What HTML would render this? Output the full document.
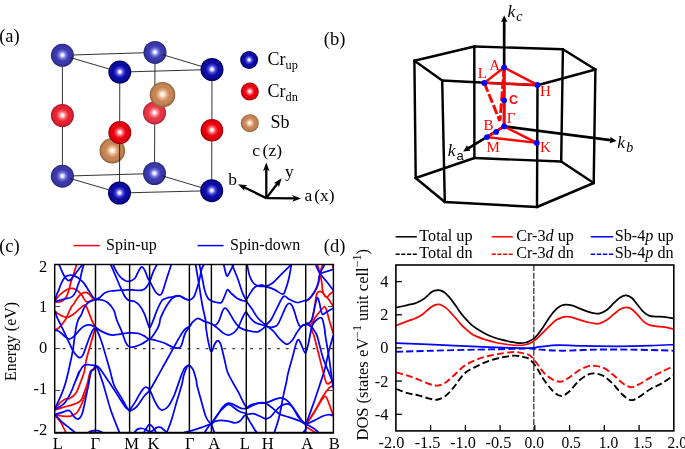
<!DOCTYPE html>
<html><head><meta charset="utf-8"><title>Figure</title>
<style>
html,body{margin:0;padding:0;background:#fff;}
body{width:685px;height:449px;overflow:hidden;font-family:"Liberation Serif",serif;}
svg{display:block;}
text{font-family:"Liberation Serif",serif;fill:#000;}
.sans{font-family:"Liberation Sans",sans-serif;}
</style></head><body>
<svg width="685" height="449" viewBox="0 0 685 449">
<rect x="0" y="0" width="685" height="449" fill="#fff"/>
<g style="opacity:0.999">
<defs>
<radialGradient id="g_bf" cx="0.5" cy="0.49" r="0.5" fx="0.5" fy="0.49"><stop offset="0" stop-color="#ffffff"/><stop offset="0.05" stop-color="#ffffff"/><stop offset="0.15" stop-color="#c8c8ff"/><stop offset="0.31" stop-color="#4a4ae0"/><stop offset="0.55" stop-color="#0c0ca2"/><stop offset="0.76" stop-color="#0c0ca2"/><stop offset="1" stop-color="#000058"/></radialGradient>
<radialGradient id="g_bb" cx="0.5" cy="0.49" r="0.5" fx="0.5" fy="0.49"><stop offset="0" stop-color="#ffffff"/><stop offset="0.05" stop-color="#ffffff"/><stop offset="0.15" stop-color="#d4d4ff"/><stop offset="0.31" stop-color="#7474e0"/><stop offset="0.55" stop-color="#3a3aaa"/><stop offset="0.76" stop-color="#3a3aaa"/><stop offset="1" stop-color="#26267e"/></radialGradient>
<radialGradient id="g_rf" cx="0.5" cy="0.49" r="0.5" fx="0.5" fy="0.49"><stop offset="0" stop-color="#ffffff"/><stop offset="0.05" stop-color="#ffffff"/><stop offset="0.15" stop-color="#ffd0d0"/><stop offset="0.31" stop-color="#ff5058"/><stop offset="0.55" stop-color="#e6000e"/><stop offset="0.76" stop-color="#e6000e"/><stop offset="1" stop-color="#a00008"/></radialGradient>
<radialGradient id="g_rb" cx="0.5" cy="0.49" r="0.5" fx="0.5" fy="0.49"><stop offset="0" stop-color="#ffffff"/><stop offset="0.05" stop-color="#ffffff"/><stop offset="0.15" stop-color="#ffd8dc"/><stop offset="0.31" stop-color="#ff7880"/><stop offset="0.55" stop-color="#e63646"/><stop offset="0.76" stop-color="#e63646"/><stop offset="1" stop-color="#b02232"/></radialGradient>
<radialGradient id="g_sb" cx="0.5" cy="0.49" r="0.5" fx="0.5" fy="0.49"><stop offset="0" stop-color="#ffffff"/><stop offset="0.05" stop-color="#ffffff"/><stop offset="0.15" stop-color="#ffe8d4"/><stop offset="0.31" stop-color="#eeb488"/><stop offset="0.55" stop-color="#c48658"/><stop offset="0.76" stop-color="#c48658"/><stop offset="1" stop-color="#946036"/></radialGradient>
<radialGradient id="g_rl" cx="0.5" cy="0.49" r="0.5" fx="0.5" fy="0.49"><stop offset="0" stop-color="#ffffff"/><stop offset="0.05" stop-color="#ffffff"/><stop offset="0.15" stop-color="#ffd4d8"/><stop offset="0.31" stop-color="#ff6870"/><stop offset="0.55" stop-color="#e42434"/><stop offset="0.76" stop-color="#e42434"/><stop offset="1" stop-color="#aa1424"/></radialGradient>
</defs>
<g id="panel-a">
<text x="-0.8" y="41.7" font-size="18.5">(a)</text>
<line x1="62.4" y1="55.3" x2="155.0" y2="52.4" stroke="#1c1c1c" stroke-width="0.90"/>
<line x1="62.4" y1="176.2" x2="154.5" y2="173.5" stroke="#1c1c1c" stroke-width="0.90"/>
<line x1="155.0" y1="52.4" x2="154.5" y2="173.5" stroke="#1c1c1c" stroke-width="0.90"/>
<line x1="62.4" y1="55.3" x2="62.4" y2="176.2" stroke="#1c1c1c" stroke-width="0.90"/>
<circle cx="62.4" cy="55.3" r="11.5" fill="url(#g_bb)"/>
<circle cx="155.0" cy="52.4" r="11.5" fill="url(#g_bb)"/>
<circle cx="62.4" cy="176.2" r="11.5" fill="url(#g_bb)"/>
<circle cx="154.5" cy="173.5" r="11.5" fill="url(#g_bb)"/>
<circle cx="62.4" cy="115.5" r="11.5" fill="url(#g_rl)"/>
<circle cx="154.5" cy="112.9" r="11.5" fill="url(#g_rb)"/>
<circle cx="162.5" cy="94.7" r="12.8" fill="url(#g_sb)"/>
<circle cx="112.3" cy="150.8" r="12.8" fill="url(#g_sb)"/>
<line x1="119.8" y1="72.1" x2="212.0" y2="69.5" stroke="#1c1c1c" stroke-width="0.90"/>
<line x1="119.5" y1="193.0" x2="211.7" y2="190.7" stroke="#1c1c1c" stroke-width="0.90"/>
<line x1="119.8" y1="72.1" x2="119.5" y2="193.0" stroke="#1c1c1c" stroke-width="0.90"/>
<line x1="212.0" y1="69.5" x2="211.7" y2="190.7" stroke="#1c1c1c" stroke-width="0.90"/>
<line x1="69.7" y1="57.4" x2="119.8" y2="72.1" stroke="#1c1c1c" stroke-width="0.90"/>
<line x1="162.3" y1="54.6" x2="212.0" y2="69.5" stroke="#1c1c1c" stroke-width="0.90"/>
<line x1="69.7" y1="178.3" x2="119.5" y2="193.0" stroke="#1c1c1c" stroke-width="0.90"/>
<line x1="161.8" y1="175.7" x2="211.7" y2="190.7" stroke="#1c1c1c" stroke-width="0.90"/>
<circle cx="119.8" cy="72.1" r="11.5" fill="url(#g_bf)"/>
<circle cx="212.0" cy="69.5" r="11.5" fill="url(#g_bf)"/>
<circle cx="119.5" cy="193.0" r="11.5" fill="url(#g_bf)"/>
<circle cx="211.7" cy="190.7" r="11.5" fill="url(#g_bf)"/>
<circle cx="119.8" cy="132.6" r="11.5" fill="url(#g_rf)"/>
<circle cx="211.9" cy="130.2" r="11.3" fill="url(#g_rf)"/>
<circle cx="249.1" cy="60.0" r="9.0" fill="url(#g_bf)"/>
<circle cx="249.8" cy="91.6" r="9.0" fill="url(#g_rf)"/>
<circle cx="249.8" cy="123.2" r="9.0" fill="url(#g_sb)"/>
<text x="267.5" y="65.3" font-size="18">Cr<tspan font-size="12.3" dy="3.2">up</tspan></text>
<text x="267.5" y="97.3" font-size="18">Cr<tspan font-size="12.3" dy="3.2">dn</tspan></text>
<text x="270.6" y="128.2" font-size="18">Sb</text>
<line x1="266.3" y1="198.1" x2="266.3" y2="168.5" stroke="#000" stroke-width="2.30"/><polygon points="266.3,162.4 269.6,171.2 266.3,169.0 263.0,171.2" fill="#000"/>
<line x1="266.3" y1="198.1" x2="294.9" y2="198.4" stroke="#000" stroke-width="2.30"/><polygon points="301.0,198.5 292.2,201.7 294.4,198.4 292.2,195.1" fill="#000"/>
<line x1="266.3" y1="198.1" x2="243.5" y2="187.0" stroke="#000" stroke-width="2.30"/><polygon points="238.0,184.3 247.4,185.2 243.9,187.2 244.5,191.1" fill="#000"/>
<line x1="266.3" y1="198.1" x2="277.9" y2="183.0" stroke="#000" stroke-width="2.30"/><polygon points="281.6,178.2 278.9,187.2 277.6,183.4 273.6,183.2" fill="#000"/>
<text x="252.3" y="156.3" font-size="17.5">c<tspan dx="2.5">(z)</tspan></text>
<text x="228.2" y="184.6" font-size="17.5">b</text>
<text x="284.9" y="177.0" font-size="17.5">y</text>
<text x="304.4" y="201.3" font-size="17.5">a<tspan dx="2">(x)</tspan></text>
</g>
<g id="panel-b">
<text x="323.8" y="45.3" font-size="18.5">(b)</text>
<line x1="414.4" y1="60.8" x2="474.3" y2="46.5" stroke="#000" stroke-width="2.45" stroke-linecap="round" />
<line x1="415.7" y1="178.0" x2="474.4" y2="158.0" stroke="#000" stroke-width="2.45" stroke-linecap="round" />
<line x1="414.4" y1="60.8" x2="415.7" y2="178.0" stroke="#000" stroke-width="2.45" stroke-linecap="round" />
<line x1="474.3" y1="46.5" x2="562.9" y2="49.3" stroke="#000" stroke-width="2.45" stroke-linecap="round" />
<line x1="474.4" y1="158.0" x2="561.2" y2="161.5" stroke="#000" stroke-width="2.45" stroke-linecap="round" />
<line x1="474.3" y1="46.5" x2="474.4" y2="158.0" stroke="#000" stroke-width="2.45" stroke-linecap="round" />
<line x1="562.9" y1="49.3" x2="595.4" y2="69.5" stroke="#000" stroke-width="2.45" stroke-linecap="round" />
<line x1="561.2" y1="161.5" x2="593.7" y2="183.0" stroke="#000" stroke-width="2.45" stroke-linecap="round" />
<line x1="562.9" y1="49.3" x2="561.2" y2="161.5" stroke="#000" stroke-width="2.45" stroke-linecap="round" />
<line x1="595.4" y1="69.5" x2="537.5" y2="85.3" stroke="#000" stroke-width="2.45" stroke-linecap="round" />
<line x1="593.7" y1="183.0" x2="537.0" y2="207.0" stroke="#000" stroke-width="2.45" stroke-linecap="round" />
<line x1="595.4" y1="69.5" x2="593.7" y2="183.0" stroke="#000" stroke-width="2.45" stroke-linecap="round" />
<line x1="537.5" y1="85.3" x2="442.2" y2="80.5" stroke="#000" stroke-width="2.45" stroke-linecap="round" />
<line x1="537.0" y1="207.0" x2="444.8" y2="202.0" stroke="#000" stroke-width="2.45" stroke-linecap="round" />
<line x1="537.5" y1="85.3" x2="537.0" y2="207.0" stroke="#000" stroke-width="2.45" stroke-linecap="round" />
<line x1="442.2" y1="80.5" x2="414.4" y2="60.8" stroke="#000" stroke-width="2.45" stroke-linecap="round" />
<line x1="444.8" y1="202.0" x2="415.7" y2="178.0" stroke="#000" stroke-width="2.45" stroke-linecap="round" />
<line x1="442.2" y1="80.5" x2="444.8" y2="202.0" stroke="#000" stroke-width="2.45" stroke-linecap="round" />
<line x1="504.1" y1="126.4" x2="504.2" y2="21.3" stroke="#000" stroke-width="2.70"/><polygon points="504.2,15.4 507.4,21.8 504.2,21.8 501.0,21.8" fill="#000"/>
<line x1="504.1" y1="126.4" x2="610.6" y2="140.1" stroke="#000" stroke-width="2.70"/><polygon points="616.5,140.9 609.7,143.3 610.2,140.1 610.6,136.9" fill="#000"/>
<line x1="504.1" y1="126.4" x2="468.2" y2="148.3" stroke="#000" stroke-width="2.70"/><polygon points="463.2,151.4 467.0,145.3 468.7,148.1 470.3,150.8" fill="#000"/>
<line x1="504.1" y1="67.5" x2="484.3" y2="82.9" stroke="#ff0000" stroke-width="2.45" stroke-linecap="round" />
<line x1="504.1" y1="67.5" x2="537.4" y2="84.9" stroke="#ff0000" stroke-width="2.45" stroke-linecap="round" />
<line x1="484.3" y1="82.9" x2="537.4" y2="84.9" stroke="#ff0000" stroke-width="2.45" stroke-linecap="round" />
<line x1="504.1" y1="67.5" x2="504.1" y2="126.4" stroke="#ff0000" stroke-width="2.45" stroke-linecap="round" />
<line x1="504.1" y1="126.4" x2="536.8" y2="142.9" stroke="#ff0000" stroke-width="2.45" stroke-linecap="round" />
<line x1="504.1" y1="126.4" x2="487.0" y2="137.1" stroke="#ff0000" stroke-width="2.45" stroke-linecap="round" />
<line x1="487.0" y1="137.1" x2="536.8" y2="142.9" stroke="#ff0000" stroke-width="2.45" stroke-linecap="round" />
<line x1="484.3" y1="82.9" x2="499.9" y2="121.2" stroke="#ff0000" stroke-width="2.90"  stroke-dasharray="9.5 2.5"/>
<line x1="504.1" y1="67.5" x2="500.1" y2="120.0" stroke="#ff0000" stroke-width="2.90"  stroke-dasharray="9.5 2.5"/>
<circle cx="504.1" cy="67.5" r="2.9" fill="#0000ff"/>
<circle cx="484.3" cy="82.9" r="2.9" fill="#0000ff"/>
<circle cx="537.4" cy="84.9" r="2.9" fill="#0000ff"/>
<circle cx="504.1" cy="100.3" r="2.9" fill="#0000ff"/>
<circle cx="504.1" cy="126.4" r="2.9" fill="#0000ff"/>
<circle cx="496.2" cy="131.9" r="2.9" fill="#0000ff"/>
<circle cx="487.0" cy="137.1" r="2.9" fill="#0000ff"/>
<circle cx="536.8" cy="142.9" r="2.9" fill="#0000ff"/>
<text x="489.2" y="69.7" font-size="15" fill="#ff0000" style="fill:#ff0000">A</text>
<text x="477.8" y="77.8" font-size="15" fill="#ff0000" style="fill:#ff0000">L</text>
<text x="539.9" y="96.4" font-size="15" fill="#ff0000" style="fill:#ff0000">H</text>
<text x="509" y="104.2" class="sans" font-weight="bold" font-size="12.4" style="fill:#ff0000">C</text>
<text x="506.8" y="122.8" font-size="15" fill="#ff0000" style="fill:#ff0000">&#915;</text>
<text x="483.6" y="129.9" font-size="15" fill="#ff0000" style="fill:#ff0000">B</text>
<text x="486.5" y="151.5" font-size="15" fill="#ff0000" style="fill:#ff0000">M</text>
<text x="539.9" y="151.5" font-size="15" fill="#ff0000" style="fill:#ff0000">K</text>
<text x="507.6" y="17.2" font-size="17.6" font-style="italic">k<tspan font-size="14" dy="3.8" dx="0.9">c</tspan></text>
<text x="617.3" y="148.4" font-size="17.6" font-style="italic">k<tspan font-size="14" dy="3.8" dx="1.1">b</tspan></text>
<text x="447.7" y="156.2" font-size="17.6" font-style="italic">k<tspan font-size="13" dy="3.4" dx="1.0" font-style="normal" class="sans">a</tspan></text>
</g>
<g id="panel-c">
<text x="-0.8" y="251.8" font-size="18.5">(c)</text>
<line x1="73.5" y1="245.6" x2="99.8" y2="245.6" stroke="#ff0000" stroke-width="1.5"/>
<text x="106" y="250.2" font-size="16">Spin-up</text>
<line x1="197.5" y1="245.6" x2="223.5" y2="245.6" stroke="#0000ff" stroke-width="1.5"/>
<text x="230" y="250.2" font-size="16">Spin-down</text>
<clipPath id="clipc"><rect x="54.7" y="264.5" width="278.7" height="168.0"/></clipPath>
<g clip-path="url(#clipc)" fill="none" stroke-width="1.75" stroke-linejoin="round">
<line x1="54.7" y1="348.6" x2="333.4" y2="348.6" stroke="#404040" stroke-width="1.3" stroke-dasharray="2.8 6.13" stroke-dashoffset="1"/>
<g stroke="#ff0000">
<path d="M76.6 264.8C76.0 266.5 74.4 271.7 73.4 274.8C72.4 277.9 71.1 281.4 70.5 283.4C69.9 285.3 70.2 285.0 69.8 286.5C69.4 287.9 68.8 290.6 68.2 292.3C67.6 294.0 67.0 295.5 66.3 296.8C65.5 298.1 64.7 299.2 63.7 300.0C62.7 300.8 61.5 301.3 60.5 301.6C59.4 302.0 58.1 302.0 57.2 302.0C56.3 302.0 55.3 301.7 55.0 301.6"/>
<path d="M55.0 300.7C55.7 299.8 57.7 297.0 59.2 295.5C60.6 294.0 62.2 292.7 63.7 291.6C65.2 290.6 66.7 289.6 68.2 289.0C69.7 288.5 71.3 288.2 72.7 288.4C74.1 288.6 75.4 289.3 76.6 290.0C77.8 290.8 78.9 291.9 79.8 292.9C80.8 293.9 81.7 295.1 82.4 296.1C83.2 297.2 83.7 298.5 84.4 299.4C85.0 300.3 85.5 301.3 86.3 301.6C87.1 302.0 87.9 301.9 88.9 301.6C89.9 301.4 91.0 300.4 92.1 300.0C93.2 299.6 94.8 299.4 95.3 299.3"/>
<path d="M55.0 329.9C55.7 329.5 57.4 329.2 59.1 327.6C60.8 325.9 63.9 321.9 65.2 320.0C66.5 318.1 65.9 318.5 67.0 316.4C68.0 314.2 70.2 309.1 71.2 307.1C72.3 305.1 72.5 305.8 73.4 304.5C74.3 303.3 75.5 300.9 76.6 299.4C77.7 297.8 78.9 296.2 79.8 295.2C80.8 294.2 81.6 293.7 82.4 293.2C83.3 292.8 84.1 292.5 85.0 292.4C85.9 292.3 86.7 292.5 87.6 292.9C88.5 293.4 89.3 294.3 90.2 295.2C91.0 296.0 91.9 297.4 92.8 298.1C93.6 298.8 94.9 299.1 95.3 299.3"/>
<path d="M54.8 311.0C55.3 311.4 56.6 312.7 57.7 313.5C58.8 314.3 59.7 315.0 61.3 315.6C62.8 316.3 64.9 317.7 67.0 317.4C69.0 317.2 71.3 315.6 73.4 314.2C75.4 312.9 77.4 310.7 79.1 309.2C80.7 307.8 82.3 306.3 83.3 305.7C84.3 305.0 84.5 305.0 85.1 305.3C85.7 305.7 86.1 306.2 86.9 307.8C87.7 309.4 88.8 312.6 89.7 314.9C90.7 317.3 91.6 319.9 92.6 322.0C93.6 324.0 95.1 326.4 95.5 327.3"/>
<path d="M95.5 327.3C94.8 329.9 92.5 337.4 91.0 342.8C89.5 348.1 87.6 354.6 86.4 359.5C85.3 364.3 85.2 368.1 84.2 372.0C83.1 375.9 81.8 379.1 80.4 382.6C79.0 386.2 77.6 390.6 75.8 393.3C74.0 395.9 71.5 397.6 69.7 398.6C68.0 399.5 66.7 398.4 65.2 399.0C63.7 399.7 62.3 400.8 60.6 402.4C58.9 403.9 55.9 407.4 55.0 408.4"/>
<path d="M95.5 365.5C95.2 366.1 94.6 367.8 93.7 368.9C92.8 370.0 91.3 369.5 90.2 372.0C89.1 374.5 88.3 380.3 87.2 384.1C86.1 387.9 84.5 392.0 83.4 394.8C82.3 397.6 82.1 399.2 80.4 400.8C78.6 402.5 75.6 403.6 72.8 404.6C70.0 405.7 66.6 406.3 63.7 407.2C60.7 408.1 56.5 409.5 55.0 410.0"/>
<path d="M95.5 365.5C95.3 366.1 94.8 367.8 94.0 368.9C93.2 370.0 91.7 369.2 90.7 372.0C89.7 374.8 89.0 381.4 88.0 385.7C86.9 390.0 85.4 394.3 84.2 397.8C82.9 401.4 81.8 404.3 80.4 406.9C79.0 409.6 77.6 412.2 75.8 413.7C74.0 415.3 72.0 416.0 69.7 416.3C67.5 416.7 64.6 416.3 62.1 416.0C59.7 415.7 56.2 414.8 55.0 414.5"/>
<path d="M55.0 415.3C55.9 416.4 58.9 419.4 60.6 422.1C62.3 424.8 64.3 429.5 65.2 431.2C66.1 432.9 65.8 432.2 65.9 432.4"/>
<path d="M88.0 432.4C88.6 432.2 90.5 431.2 91.7 430.9C93.0 430.6 94.9 430.5 95.5 430.4"/>
<path d="M317.4 265.0C317.8 266.4 319.2 270.3 320.0 273.5C320.8 276.7 321.6 281.4 322.0 284.0C322.4 286.6 322.1 287.6 322.4 289.3C322.7 291.0 323.2 292.8 323.7 294.0C324.2 295.2 324.8 296.2 325.4 296.7C326.0 297.2 326.6 297.4 327.4 297.0C328.2 296.6 329.0 294.9 330.0 294.0C331.0 293.1 332.8 291.8 333.4 291.3"/>
<path d="M305.7 300.9C306.3 300.6 308.2 300.1 309.5 298.9C310.8 297.7 312.4 295.4 313.7 293.5C314.9 291.6 316.2 289.3 317.0 287.4C317.8 285.5 318.2 284.3 318.7 282.0C319.2 279.7 319.4 276.3 320.0 273.5C320.6 270.7 322.0 266.4 322.4 265.0"/>
<path d="M305.7 323.7C306.3 323.6 308.4 323.7 309.5 323.0C310.6 322.3 311.3 321.1 312.0 319.3C312.7 317.5 313.2 314.4 313.7 312.0C314.2 309.6 314.5 307.4 314.9 305.0C315.3 302.6 315.6 299.4 316.0 297.4C316.4 295.3 316.7 293.7 317.4 292.7C318.1 291.7 319.1 291.3 320.0 291.3C320.9 291.3 321.8 291.9 322.7 292.7C323.6 293.5 324.4 294.9 325.4 296.0C326.4 297.1 327.7 298.2 328.7 299.4C329.7 300.6 330.6 302.2 331.4 303.4C332.1 304.6 332.9 305.9 333.2 306.4"/>
<path d="M305.7 323.7C306.2 323.9 308.1 324.8 309.0 324.8C309.9 324.9 310.3 325.2 311.4 324.0C312.5 322.8 314.0 319.4 315.4 317.3C316.8 315.2 318.7 312.9 320.0 311.3C321.3 309.7 322.6 308.3 323.4 307.5C324.2 306.7 324.2 306.4 324.7 306.7C325.2 306.9 325.8 307.9 326.2 309.0C326.6 310.1 326.8 311.0 327.4 313.3C328.0 315.6 329.0 319.3 330.0 322.7C331.0 326.1 332.7 331.8 333.2 333.6"/>
<path d="M305.7 323.7C306.3 323.9 308.6 324.5 309.5 325.0C310.4 325.5 310.9 325.2 311.4 326.5C311.9 327.8 312.0 331.2 312.4 332.7C312.8 334.1 312.9 331.8 313.9 335.2C314.9 338.6 316.9 347.3 318.5 353.4C320.0 359.5 321.8 366.8 323.0 371.6C324.3 376.4 325.2 380.2 326.1 382.2C326.9 384.3 327.4 383.9 328.3 383.8C329.2 383.6 330.5 382.0 331.4 381.5C332.2 381.0 333.0 380.9 333.3 380.7"/>
<path d="M305.9 424.4C307.2 422.5 311.6 416.7 313.9 413.0C316.3 409.3 318.1 405.1 320.0 402.4C321.9 399.6 323.8 396.0 325.3 396.3C326.8 396.5 327.7 400.6 329.1 403.9C330.4 407.2 332.6 414.0 333.3 416.0"/>
<path d="M305.9 424.4C307.5 422.0 312.6 414.6 315.4 410.0C318.3 405.3 320.7 400.0 323.0 396.3C325.3 392.6 327.4 389.7 329.1 387.9C330.8 386.2 332.6 386.0 333.3 385.7"/>
<path d="M305.9 426.7C306.7 427.2 309.3 428.7 310.9 429.7C312.5 430.7 314.7 432.0 315.4 432.4"/>
<path d="M332.6 265.0L333.4 269.0"/>
</g>
<g stroke="#0000ff">
<path d="M59.1 264.8C59.6 265.9 61.0 269.2 62.0 271.3C62.9 273.3 64.0 275.6 64.8 277.0C65.7 278.4 66.3 279.1 67.0 279.7C67.6 280.3 68.1 280.6 68.7 280.5C69.4 280.5 70.1 280.2 70.9 279.5C71.6 278.7 72.4 277.6 73.4 276.2C74.4 274.9 75.7 273.2 76.9 271.6C78.1 270.1 79.6 268.1 80.5 267.0C81.4 265.9 82.0 265.2 82.3 264.8"/>
<path d="M54.8 301.5C55.0 300.8 55.5 298.5 55.9 297.1C56.3 295.7 56.8 294.5 57.3 293.2C57.9 291.9 58.5 290.7 59.1 289.1C59.8 287.4 60.3 285.3 61.3 283.4C62.2 281.4 63.8 278.6 64.8 277.3C65.9 276.0 66.7 276.0 67.7 275.7C68.6 275.3 69.6 275.2 70.5 275.2C71.5 275.2 72.3 275.2 73.4 275.5C74.4 275.9 75.7 276.4 76.9 277.1C78.1 277.8 79.3 278.8 80.5 279.8C81.7 280.9 82.7 281.7 84.1 283.4C85.4 285.1 87.2 288.2 88.3 290.0C89.5 291.8 90.0 292.7 90.8 293.9C91.6 295.2 92.5 296.5 93.3 297.5C94.1 298.4 95.2 299.3 95.6 299.6"/>
<path d="M55.0 301.6C55.9 301.4 58.7 300.5 60.5 300.0C62.2 299.5 64.0 299.1 65.6 298.7C67.2 298.4 68.9 298.3 70.1 297.8C71.4 297.2 72.4 296.6 73.4 295.5C74.3 294.4 75.2 292.7 76.0 291.0C76.7 289.3 77.3 286.9 77.9 285.2C78.5 283.4 79.3 281.8 79.8 280.5C80.2 279.3 80.1 279.2 80.5 277.7C80.8 276.1 81.4 273.4 81.9 271.3C82.4 269.1 83.4 265.9 83.7 264.8"/>
<path d="M54.8 311.0C55.2 312.0 56.4 315.6 57.0 317.1C57.6 318.6 57.5 318.2 58.3 320.0C59.2 321.8 60.8 324.7 62.1 327.6C63.5 330.5 64.9 333.7 66.7 337.5C68.5 341.3 71.0 347.2 72.8 350.4C74.5 353.5 76.1 355.2 77.3 356.4C78.6 357.6 79.4 358.0 80.4 357.6C81.4 357.3 82.1 356.9 83.4 354.2C84.7 351.4 86.4 345.2 88.0 341.3C89.5 337.3 91.2 333.0 92.5 330.6C93.8 328.3 95.0 327.8 95.5 327.3"/>
<path d="M55.0 329.9C55.7 330.1 57.4 330.2 59.1 331.4C60.8 332.5 63.4 335.4 65.2 336.7C67.0 338.0 68.2 339.1 69.7 339.0C71.3 338.9 72.5 337.6 74.3 335.9C76.1 334.3 78.6 330.8 80.4 329.1C82.1 327.4 83.4 326.5 84.9 325.8C86.4 325.1 88.0 324.8 89.5 324.9C91.0 325.0 93.0 326.0 94.0 326.4C95.0 326.8 95.3 327.1 95.5 327.3"/>
<path d="M95.6 299.6C95.0 299.8 93.2 300.1 91.9 300.7C90.6 301.3 88.9 302.0 87.6 303.2C86.3 304.4 85.1 305.8 84.1 307.8C83.0 309.8 82.2 312.9 81.2 314.9C80.2 317.0 79.0 317.6 78.1 320.0C77.2 322.4 76.7 324.0 75.8 329.1C74.9 334.2 73.8 344.3 72.8 350.4C71.8 356.4 71.0 359.9 69.7 365.5C68.5 371.2 66.7 379.0 65.2 384.1C63.7 389.3 62.3 392.2 60.6 396.3C58.9 400.3 55.9 406.4 55.0 408.4"/>
<path d="M95.5 365.5C94.5 365.4 91.4 364.8 89.5 364.8C87.6 364.7 85.7 364.4 84.2 365.2C82.6 366.1 81.8 367.5 80.4 370.1C79.0 372.7 76.1 380.4 75.8 380.7C75.6 381.0 79.1 371.4 78.8 372.0C78.6 372.6 75.8 380.3 74.3 384.1C72.8 387.9 71.5 391.5 69.7 394.8C68.0 398.1 66.1 401.5 63.7 403.9C61.2 406.3 56.5 408.3 55.0 409.2"/>
<path d="M95.5 365.5C95.2 366.3 94.0 369.0 93.3 370.1C92.5 371.2 91.9 369.2 91.0 372.0C90.1 374.8 89.0 382.1 88.0 387.2C86.9 392.2 85.9 397.8 84.9 402.4C83.9 406.9 83.0 411.7 81.9 414.5C80.7 417.3 79.4 418.7 78.1 419.1C76.8 419.4 75.6 418.1 74.3 416.8C73.0 415.5 71.6 412.6 70.5 411.5C69.4 410.4 68.6 410.2 67.5 410.3C66.3 410.3 65.7 411.1 63.7 411.8C61.6 412.5 56.5 414.1 55.0 414.5"/>
<path d="M55.0 414.5C56.2 415.8 59.7 419.8 62.1 422.1C64.6 424.4 67.6 426.5 69.7 428.2C71.9 429.9 74.2 431.7 75.0 432.4"/>
<path d="M88.7 432.4C89.3 432.2 91.4 431.2 92.5 430.9C93.6 430.6 94.5 430.4 95.5 430.4C96.6 430.4 97.4 430.6 98.6 430.9C99.7 431.2 101.7 432.2 102.4 432.4"/>
<path d="M95.5 299.8C96.3 299.3 98.6 298.3 100.1 297.2C101.6 296.1 102.9 294.1 104.7 293.1C106.4 292.1 108.4 291.4 110.7 291.0C113.0 290.5 115.8 290.6 118.3 290.4C120.8 290.2 124.0 289.9 125.9 289.8C127.8 289.6 128.2 289.6 129.7 289.6C131.2 289.7 133.1 289.9 135.0 290.1C136.9 290.2 139.3 290.7 141.1 290.4C142.9 290.0 144.2 289.6 145.6 288.1C147.1 286.6 148.5 283.9 149.8 281.3C151.0 278.6 151.9 274.9 153.1 272.1C154.3 269.4 156.3 265.8 156.9 264.6"/>
<path d="M95.5 299.8C96.6 299.8 99.6 299.3 101.6 299.8C103.6 300.2 105.7 300.8 107.7 302.5C109.7 304.2 112.2 307.2 113.8 310.1C115.3 313.0 115.5 316.6 116.8 320.0C118.1 323.4 119.8 326.8 121.4 330.6C122.9 334.4 124.5 340.0 125.9 342.8C127.3 345.5 128.2 346.4 129.7 347.0C131.2 347.7 133.1 347.0 135.0 346.6C136.9 346.1 139.1 345.3 141.1 344.3C143.1 343.3 145.7 341.4 147.2 340.5C148.6 339.6 148.3 339.0 149.8 339.0C151.3 339.0 153.8 339.9 156.1 340.5C158.5 341.1 161.2 341.8 163.7 342.8C166.3 343.8 169.0 345.7 171.3 346.6C173.6 347.5 175.8 348.2 177.4 348.1C179.0 348.0 179.9 348.2 181.2 345.8C182.5 343.4 183.6 336.8 185.0 333.7C186.4 330.5 188.8 328.0 189.5 326.8"/>
<path d="M110.7 264.6C111.5 266.3 113.8 271.6 115.3 275.2C116.8 278.7 118.3 282.4 119.8 285.8C121.4 289.2 123.1 293.4 124.4 295.7C125.7 298.0 126.5 298.6 127.4 299.5C128.3 300.3 128.4 300.3 129.7 300.7C131.0 301.1 133.4 300.9 135.0 301.7C136.7 302.6 138.1 303.6 139.6 305.5C141.1 307.4 142.7 310.1 144.1 313.1C145.5 316.2 147.0 321.4 147.9 323.8C148.9 326.2 148.9 328.1 149.8 327.6C150.6 327.1 151.8 323.9 153.1 320.7C154.4 317.6 156.1 312.0 157.7 308.6C159.2 305.2 160.7 302.0 162.2 300.2C163.7 298.5 165.3 298.5 166.8 298.0C168.3 297.4 169.3 297.6 171.3 297.2C173.4 296.8 176.6 295.4 178.9 295.7C181.2 295.9 183.2 298.0 185.0 298.7C186.8 299.5 188.8 300.0 189.5 300.2"/>
<path d="M113.0 264.6C113.6 265.8 115.4 269.9 116.8 272.1C118.2 274.4 119.8 276.8 121.4 278.2C122.9 279.7 124.5 280.4 125.9 281.0C127.3 281.5 128.2 281.7 129.7 281.3C131.2 280.8 133.5 280.0 135.0 278.2C136.5 276.4 137.7 272.5 138.8 270.6C139.9 268.7 140.8 266.8 141.8 266.8C142.9 266.8 143.9 268.7 144.9 270.6C145.9 272.5 147.1 276.4 147.9 278.2C148.7 280.0 148.7 279.2 149.8 281.3C150.9 283.3 153.1 288.1 154.6 290.4C156.2 292.6 157.9 294.5 159.2 294.9C160.4 295.3 161.0 295.4 162.2 292.6C163.5 289.9 165.3 282.9 166.8 278.2C168.3 273.5 170.6 266.8 171.3 264.6"/>
<path d="M95.5 327.3C96.6 328.0 99.1 330.1 101.6 331.4C104.1 332.7 107.9 334.4 110.7 334.9C113.5 335.4 115.3 334.8 118.3 334.4C121.4 334.1 125.7 333.1 128.9 332.9C132.2 332.7 135.5 332.9 138.1 333.4C140.6 333.9 142.2 335.0 144.1 335.9C146.1 336.9 147.9 339.6 149.8 339.0C151.6 338.3 153.8 334.5 155.4 332.1C157.0 329.7 158.3 327.0 159.2 324.6C160.1 322.1 159.4 320.9 160.7 317.7C162.0 314.5 164.7 308.8 166.8 305.5C168.8 302.3 170.8 299.5 172.8 298.0C174.9 296.4 176.9 295.9 178.9 296.0C180.9 296.1 183.2 298.0 185.0 298.7C186.8 299.4 188.8 300.0 189.5 300.2"/>
<path d="M95.6 327.3C96.5 329.4 99.1 334.6 101.0 340.0C102.9 345.4 105.4 354.7 107.0 360.0C108.6 365.3 109.2 367.8 110.4 372.0C111.6 376.2 112.2 380.7 114.0 385.0C115.8 389.3 119.1 393.9 121.4 397.8C123.6 401.7 126.0 406.2 127.4 408.4C128.8 410.7 129.3 410.7 129.7 411.2"/>
<path d="M95.6 365.7C96.2 366.0 97.8 366.4 99.0 367.6C100.2 368.8 101.7 371.2 103.0 373.1C104.3 375.0 105.7 377.1 107.0 379.1C108.3 381.1 109.1 382.1 111.0 385.0C112.9 387.9 115.8 392.5 118.3 396.3C120.8 400.1 124.0 405.4 125.9 407.7C127.8 410.0 129.1 409.6 129.7 410.0"/>
<path d="M95.6 365.7C96.0 366.3 97.2 367.4 98.0 369.1C98.8 370.8 99.6 373.5 100.5 376.1C101.4 378.8 101.8 379.4 103.5 385.0C105.2 390.6 108.3 402.5 110.7 410.0C113.2 417.4 116.9 425.9 118.3 429.7C119.8 433.4 119.2 432.0 119.4 432.4"/>
<path d="M129.7 410.0C130.6 408.7 133.1 405.4 135.0 402.4C136.9 399.3 139.3 394.3 141.1 391.7C142.9 389.2 144.2 387.4 145.6 387.2C147.1 386.9 148.3 387.9 149.8 390.2C151.3 392.5 153.1 397.8 154.6 400.8C156.2 403.9 157.8 406.9 159.2 408.4C160.6 410.0 161.5 410.3 163.0 410.0C164.5 409.6 166.4 408.7 168.3 406.2C170.2 403.6 172.3 399.5 174.4 394.8C176.4 390.0 178.8 382.1 180.4 377.7C182.1 373.3 183.1 370.6 184.2 368.6C185.4 366.6 186.4 366.4 187.3 365.8C188.2 365.3 189.2 365.3 189.5 365.2"/>
<path d="M129.7 411.2C130.8 410.5 134.1 409.4 136.5 406.9C138.9 404.4 141.9 399.1 144.1 396.3C146.3 393.5 147.7 393.1 149.7 390.2C151.7 387.4 153.8 383.3 156.1 379.2C158.5 375.1 161.2 370.1 163.7 365.5C166.3 361.0 168.8 356.4 171.3 351.9C173.9 347.3 176.6 342.0 178.9 338.2C181.2 334.4 183.2 331.0 185.0 329.1C186.8 327.2 188.8 327.2 189.5 326.8"/>
<path d="M166.8 432.4C167.5 430.4 169.6 426.1 171.3 420.6C173.1 415.1 175.6 405.4 177.4 399.3C179.2 393.3 180.9 388.0 182.0 384.1C183.0 380.3 182.7 378.9 183.5 376.2C184.2 373.5 185.7 369.6 186.5 367.8C187.3 366.1 188.0 366.0 188.5 365.5C189.0 365.1 189.4 365.3 189.5 365.2"/>
<path d="M144.1 432.4C144.6 431.5 146.2 428.0 147.2 426.7C148.1 425.3 148.8 424.2 149.7 424.4C150.7 424.5 152.2 426.3 153.1 427.4C154.0 428.6 154.9 430.4 155.4 431.2C155.9 432.0 156.0 432.2 156.1 432.4"/>
<path d="M134.3 432.4C134.9 431.8 136.7 429.6 138.1 428.9C139.4 428.3 141.1 428.2 142.6 428.5C144.1 428.7 146.0 429.9 147.2 430.4C148.4 431.0 148.8 431.5 149.8 431.5C150.8 431.5 151.9 431.1 153.1 430.4C154.3 429.8 155.6 427.9 156.9 427.4C158.2 426.9 159.4 426.9 160.7 427.4C162.0 427.9 163.5 429.6 164.5 430.4C165.5 431.3 166.4 432.1 166.8 432.4"/>
<path d="M189.5 300.2C190.3 299.6 192.6 299.3 194.1 296.4C195.6 293.5 197.4 287.3 198.7 282.8C199.9 278.2 200.8 272.1 201.7 269.1C202.6 266.1 203.6 265.3 204.0 264.6"/>
<path d="M195.6 264.6C196.1 267.6 197.5 275.9 198.7 282.8C199.8 289.6 201.3 299.3 202.4 305.5C203.6 311.7 204.9 316.1 205.5 320.0C206.1 323.9 205.7 325.3 206.2 329.1C206.7 332.9 207.7 339.0 208.5 342.8C209.4 346.6 210.2 351.6 211.3 351.9C212.3 352.1 213.5 346.2 214.6 344.3C215.7 342.4 216.6 340.5 217.6 340.5C218.6 340.5 219.5 341.1 220.7 344.3C221.8 347.5 223.3 354.9 224.5 359.5C225.6 364.1 226.2 368.4 227.5 372.0C228.8 375.6 230.3 377.8 232.1 381.1C233.8 384.4 236.1 387.9 238.1 391.7C240.1 395.5 242.7 401.1 244.2 403.9C245.7 406.7 246.7 407.7 247.2 408.4"/>
<path d="M199.4 264.6C199.8 266.3 200.8 270.9 201.7 275.2C202.6 279.5 203.7 286.6 204.7 290.4C205.7 294.2 206.7 296.2 207.8 298.0C208.8 299.7 209.7 299.9 211.3 300.7C212.8 301.4 215.2 302.2 216.9 302.5C218.6 302.8 220.2 303.5 221.4 302.5C222.7 301.5 223.4 298.6 224.5 296.4C225.5 294.3 226.5 290.2 227.5 289.6C228.5 289.0 229.0 291.2 230.5 292.6C232.1 294.0 234.6 296.6 236.6 298.0C238.6 299.3 240.9 300.1 242.7 300.7C244.5 301.2 246.5 301.2 247.2 301.3"/>
<path d="M189.5 326.8C190.1 326.1 191.2 323.6 192.6 322.2C194.0 320.8 195.9 318.6 197.9 318.4C199.9 318.3 202.5 320.6 204.7 321.5C207.0 322.4 209.2 322.7 211.3 323.8C213.3 324.8 214.9 326.1 216.9 327.6C218.8 329.1 221.0 331.6 222.9 332.9C224.8 334.2 226.5 335.2 228.3 335.2C230.0 335.2 231.9 334.2 233.6 332.9C235.2 331.6 236.9 329.6 238.1 327.6C239.4 325.6 240.0 323.1 241.2 320.7C242.3 318.3 243.9 314.7 245.0 313.1C246.0 311.6 246.9 311.9 247.2 311.6"/>
<path d="M211.3 323.8C211.9 324.0 214.0 325.8 215.4 325.3C216.7 324.8 217.9 323.3 219.1 320.7C220.4 318.2 221.8 312.1 222.9 310.1C224.1 308.1 224.7 307.8 226.0 308.6C227.2 309.3 229.3 312.7 230.5 314.7C231.8 316.6 232.3 318.1 233.6 320.0C234.8 321.9 236.6 324.6 238.1 326.1C239.6 327.6 241.2 328.4 242.7 329.1C244.2 329.8 246.5 330.1 247.2 330.3"/>
<path d="M189.5 365.2C190.2 366.1 192.2 367.5 193.3 370.1C194.5 372.7 195.7 378.1 196.4 380.7C197.0 383.3 196.2 382.1 197.1 385.7C198.0 389.3 200.2 397.0 201.7 402.4C203.2 407.7 204.6 413.9 206.2 417.5C207.8 421.2 210.4 423.2 211.3 424.4"/>
<path d="M184.2 432.4C185.6 432.1 189.7 431.3 192.6 430.4C195.5 429.6 199.2 428.3 201.7 427.4C204.2 426.5 206.2 425.6 207.8 425.1C209.4 424.6 210.7 424.5 211.3 424.4"/>
<path d="M204.7 432.4C205.4 431.5 207.4 428.0 208.5 426.7C209.6 425.3 210.4 423.6 211.3 424.4C212.1 425.1 213.3 429.9 213.8 431.2C214.4 432.5 214.5 432.2 214.6 432.4"/>
<path d="M211.3 424.4C212.2 423.0 214.9 418.9 216.9 416.0C218.8 413.1 221.0 409.1 222.9 406.9C224.8 404.8 226.5 403.5 228.3 403.1C230.0 402.7 231.4 403.8 233.6 404.6C235.7 405.5 238.9 407.8 241.2 408.4C243.4 409.1 246.2 408.4 247.2 408.4"/>
<path d="M211.3 424.4C211.9 423.2 213.7 419.9 215.4 417.5C217.0 415.1 219.4 412.1 221.4 410.0C223.4 407.8 225.7 405.3 227.5 404.6C229.3 404.0 230.3 405.1 232.1 406.2C233.8 407.2 236.1 409.6 238.1 410.7C240.1 411.9 242.7 412.6 244.2 413.0C245.7 413.4 246.7 413.0 247.2 413.0"/>
<path d="M211.3 424.4C211.9 423.9 213.7 422.0 215.4 421.3C217.0 420.7 219.1 420.3 221.4 420.3C223.7 420.3 226.7 420.9 229.0 421.3C231.3 421.8 233.3 422.9 235.1 422.9C236.9 422.9 238.1 422.5 239.6 421.3C241.2 420.2 242.9 417.2 244.2 416.0C245.5 414.9 246.7 414.8 247.2 414.5"/>
<path d="M223.7 264.6C224.1 266.1 225.3 271.8 226.0 273.7C226.6 275.6 226.7 276.4 227.5 275.9C228.3 275.4 229.5 272.5 230.5 270.6C231.5 268.7 233.1 265.6 233.6 264.6"/>
<path d="M232.1 264.6C233.1 267.1 236.4 274.9 238.1 279.7C239.9 284.5 241.2 289.7 242.7 293.4C244.2 297.1 246.5 300.4 247.2 301.7"/>
<path d="M247.1 264.6C247.5 266.3 248.4 272.1 249.4 275.2C250.4 278.2 251.8 281.0 253.2 282.8C254.6 284.5 255.6 285.2 257.7 285.8C259.8 286.4 264.4 286.4 265.8 286.6"/>
<path d="M245.9 300.7C246.6 299.5 248.7 295.6 250.1 293.4C251.6 291.2 252.9 288.7 254.7 287.3C256.5 285.9 258.9 285.2 260.8 285.0C262.6 284.9 264.9 286.3 265.8 286.6"/>
<path d="M245.9 300.7C246.9 302.0 249.7 305.7 251.7 308.6C253.6 311.4 255.4 314.9 257.7 317.7C260.1 320.5 264.4 324.0 265.8 325.3"/>
<path d="M245.9 311.6C246.6 312.6 248.7 315.9 250.1 317.7C251.6 319.5 252.9 321.1 254.7 322.2C256.5 323.4 258.9 323.9 260.8 324.5C262.6 325.2 264.9 325.8 265.8 326.0"/>
<path d="M245.9 330.3C246.9 330.5 249.7 331.1 251.7 331.4C253.6 331.6 256.0 332.2 257.7 331.8C259.5 331.5 260.9 330.1 262.3 329.1C263.6 328.1 265.2 326.3 265.8 325.8"/>
<path d="M245.9 408.4C246.9 407.8 249.4 405.5 251.7 404.6C253.9 403.8 256.9 403.4 259.3 403.1C261.6 402.9 264.7 403.1 265.8 403.1"/>
<path d="M245.9 409.2C247.1 408.5 250.7 406.2 253.2 405.1C255.7 404.0 258.7 403.0 260.8 402.7C262.9 402.3 264.9 403.0 265.8 403.1"/>
<path d="M245.9 414.5C247.1 414.4 251.0 413.5 253.2 413.7C255.4 414.0 257.2 415.1 259.3 416.0C261.4 416.9 264.7 418.6 265.8 419.1"/>
<path d="M245.9 414.5C246.6 415.8 248.7 419.6 250.1 422.1C251.6 424.6 253.6 428.0 254.7 429.7C255.8 431.4 256.6 432.0 257.0 432.4"/>
<path d="M265.8 286.6C267.0 285.9 270.2 284.9 272.9 282.8C275.6 280.6 279.5 276.2 282.0 273.7C284.6 271.1 286.6 269.1 288.1 267.6C289.6 266.1 290.6 265.3 291.1 264.9"/>
<path d="M265.8 286.6C267.2 287.1 271.6 288.3 274.4 289.6C277.3 290.9 280.9 294.3 282.8 294.2C284.7 294.0 284.8 291.5 285.8 288.8C286.8 286.2 287.9 282.3 288.9 278.2C289.8 274.2 291.0 266.8 291.4 264.6"/>
<path d="M265.8 325.3C266.7 324.3 269.5 322.2 271.4 319.2C273.3 316.2 275.4 310.9 277.5 307.1C279.5 303.3 281.5 297.7 283.5 296.4C285.6 295.2 287.3 298.5 289.6 299.5C291.9 300.5 294.9 302.3 297.2 302.5C299.5 302.8 301.8 301.4 303.3 301.0C304.7 300.6 305.4 300.4 305.9 300.2"/>
<path d="M265.8 325.8C266.7 326.0 269.7 327.2 271.4 327.3C273.1 327.3 274.7 326.9 276.0 326.1C277.2 325.2 277.2 325.7 279.0 322.3C280.8 318.9 284.7 308.6 286.6 305.5C288.5 302.5 289.2 303.2 290.4 303.7C291.5 304.2 292.3 305.7 293.4 308.6C294.6 311.4 296.1 317.7 297.2 320.7C298.3 323.7 299.2 325.8 300.2 326.5C301.3 327.2 302.3 325.3 303.3 325.0C304.2 324.6 305.4 324.6 305.9 324.5"/>
<path d="M265.8 325.8C267.0 326.6 270.7 328.6 272.9 330.6C275.1 332.7 277.0 336.1 279.0 338.2C281.0 340.4 283.5 342.6 285.1 343.5C286.6 344.5 286.8 344.6 288.1 344.0C289.4 343.4 291.1 341.7 292.7 339.7C294.2 337.8 295.7 334.4 297.2 332.1C298.7 329.9 300.3 327.3 301.8 326.1C303.2 324.8 305.2 324.8 305.9 324.6"/>
<path d="M265.8 403.1C267.0 402.6 270.5 401.0 272.9 400.1C275.4 399.2 278.2 397.8 280.5 397.8C282.8 397.8 284.6 398.6 286.6 400.1C288.6 401.6 290.6 404.0 292.7 406.9C294.7 409.8 296.5 414.6 298.7 417.5C300.9 420.5 304.7 423.2 305.9 424.4"/>
<path d="M265.8 403.1C267.0 404.0 270.7 406.7 272.9 408.4C275.1 410.2 277.0 412.5 279.0 413.7C281.0 415.0 282.8 415.3 285.1 416.0C287.3 416.8 290.1 417.4 292.7 418.3C295.2 419.2 298.0 420.3 300.2 421.3C302.4 422.4 304.9 423.9 305.9 424.4"/>
<path d="M265.8 419.1C266.6 418.7 269.1 418.1 270.6 416.8C272.2 415.5 273.5 413.2 275.2 411.5C276.8 409.7 278.6 407.4 280.5 406.2C282.4 404.9 284.9 404.1 286.6 403.9C288.2 403.7 288.9 403.8 290.4 405.1C291.9 406.4 293.8 408.9 295.7 411.5C297.6 414.1 300.1 418.4 301.8 420.6C303.5 422.7 305.2 423.7 305.9 424.4"/>
<path d="M274.4 432.4C275.2 429.9 277.5 423.8 279.0 417.5C280.5 411.3 282.3 400.8 283.5 394.8C284.8 388.7 285.8 384.7 286.6 381.1C287.3 377.5 287.1 377.2 288.1 373.1C289.1 369.0 291.3 361.5 292.7 356.4C294.0 351.4 295.4 345.6 296.4 342.8C297.5 340.0 297.8 339.2 298.7 339.7C299.6 340.2 300.9 343.9 301.8 345.8C302.6 347.7 303.4 350.0 304.0 351.1C304.7 352.2 305.1 353.7 305.9 352.3C306.6 350.9 307.8 346.4 308.6 342.8C309.4 339.2 310.4 333.1 310.9 330.6C311.3 328.2 310.9 329.2 311.4 328.0C311.8 326.8 312.4 324.8 313.4 323.4C314.4 321.9 316.1 320.3 317.4 319.3C318.6 318.4 320.1 317.6 321.0 317.7C321.9 317.8 322.1 318.1 322.7 320.0C323.3 322.0 324.3 326.8 324.7 329.4C325.1 331.9 324.6 330.4 325.3 335.2C326.0 339.9 327.9 350.4 329.1 358.0C330.2 365.5 331.4 375.7 332.1 380.7C332.8 385.7 333.1 386.8 333.3 388.0"/>
<path d="M305.7 300.9C306.3 300.5 308.0 300.0 309.3 298.7C310.6 297.4 312.2 295.2 313.4 293.3C314.6 291.4 315.9 289.2 316.7 287.3C317.5 285.4 317.8 284.3 318.4 282.0C318.9 279.7 319.0 276.3 320.0 273.5C321.0 270.7 323.7 266.4 324.4 265.0"/>
<path d="M315.7 265.0C316.4 266.4 318.1 270.7 320.0 273.5C321.9 276.3 324.8 279.2 327.0 282.0C329.2 284.8 332.3 288.9 333.4 290.3"/>
<path d="M320.0 273.5L333.4 269.3"/>
<path d="M305.5 323.7C306.2 323.6 308.3 323.7 309.3 323.0C310.4 322.3 311.3 321.2 312.0 319.3C312.7 317.5 313.1 314.6 313.7 312.0C314.2 309.5 314.7 306.4 315.4 304.0C316.0 301.6 316.7 297.9 317.4 297.7C318.0 297.5 318.7 300.3 319.4 302.7C320.0 305.1 320.8 310.1 321.4 312.0C322.0 313.9 322.1 314.3 323.0 314.3C323.9 314.3 325.0 313.0 326.7 312.0C328.4 311.0 332.0 308.9 333.0 308.3"/>
<path d="M305.5 323.7C306.2 324.0 308.3 324.7 309.3 325.4C310.4 326.0 311.1 326.4 312.0 327.4C312.9 328.4 313.8 329.8 314.7 331.4C315.6 332.9 316.0 332.3 317.4 336.7C318.7 341.1 321.1 351.9 323.0 358.0C325.0 364.0 327.4 368.8 329.1 373.1C330.8 377.4 332.6 382.0 333.3 383.8"/>
<path d="M305.9 424.4C307.2 420.7 311.3 409.8 313.9 402.4C316.5 394.9 319.7 385.0 321.5 379.6C323.3 374.2 323.3 375.0 324.5 370.1C325.8 365.2 327.6 356.2 329.1 350.4C330.6 344.5 332.6 337.7 333.3 335.2"/>
<path d="M305.9 424.4C307.2 423.7 311.0 422.0 313.9 420.6C316.8 419.2 320.5 417.0 323.0 416.0C325.5 415.0 327.4 414.5 329.1 414.5C330.8 414.5 332.6 415.8 333.3 416.0"/>
<path d="M303.3 432.4C303.7 431.8 305.4 430.3 305.9 428.9C306.3 427.6 305.0 424.8 305.9 424.4C306.7 424.0 309.3 425.8 310.9 426.7C312.5 427.5 314.2 428.7 315.4 429.7C316.7 430.7 318.0 432.0 318.5 432.4"/>
</g>
</g>
<line x1="95.5" y1="264.5" x2="95.5" y2="432.5" stroke="#000" stroke-width="1.45"/>
<line x1="129.6" y1="264.5" x2="129.6" y2="432.5" stroke="#000" stroke-width="1.45"/>
<line x1="149.6" y1="264.5" x2="149.6" y2="432.5" stroke="#000" stroke-width="1.45"/>
<line x1="189.4" y1="264.5" x2="189.4" y2="432.5" stroke="#000" stroke-width="1.45"/>
<line x1="211.4" y1="264.5" x2="211.4" y2="432.5" stroke="#000" stroke-width="1.45"/>
<line x1="246.3" y1="264.5" x2="246.3" y2="432.5" stroke="#000" stroke-width="1.45"/>
<line x1="265.8" y1="264.5" x2="265.8" y2="432.5" stroke="#000" stroke-width="1.45"/>
<line x1="305.7" y1="264.5" x2="305.7" y2="432.5" stroke="#000" stroke-width="1.45"/>
<rect x="54.7" y="264.5" width="278.7" height="168.0" fill="none" stroke="#000" stroke-width="1.45"/>
<line x1="54.0" y1="432.9" x2="334.1" y2="432.9" stroke="#000" stroke-width="1.9"/>
<text x="47.3" y="272.2" font-size="16.5" text-anchor="end">2</text>
<line x1="54.7" y1="306.5" x2="60.2" y2="306.5" stroke="#303030" stroke-width="0.9"/>
<line x1="327.9" y1="306.5" x2="333.4" y2="306.5" stroke="#303030" stroke-width="0.9"/>
<text x="47.3" y="312.4" font-size="16.5" text-anchor="end">1</text>
<line x1="54.7" y1="348.5" x2="60.2" y2="348.5" stroke="#303030" stroke-width="0.9"/>
<line x1="327.9" y1="348.5" x2="333.4" y2="348.5" stroke="#303030" stroke-width="0.9"/>
<text x="47.3" y="353.0" font-size="16.5" text-anchor="end">0</text>
<line x1="54.7" y1="390.5" x2="60.2" y2="390.5" stroke="#303030" stroke-width="0.9"/>
<line x1="327.9" y1="390.5" x2="333.4" y2="390.5" stroke="#303030" stroke-width="0.9"/>
<text x="47.3" y="394.4" font-size="16.5" text-anchor="end">-1</text>
<text x="47.3" y="435.0" font-size="16.5" text-anchor="end">-2</text>
<text x="57.8" y="449.1" font-size="16.6" text-anchor="middle">L</text>
<text x="95.2" y="449.1" font-size="16.6" text-anchor="middle">&#915;</text>
<text x="131.6" y="449.1" font-size="16.6" text-anchor="middle">M</text>
<text x="153.6" y="449.1" font-size="16.6" text-anchor="middle">K</text>
<text x="189.9" y="449.1" font-size="16.6" text-anchor="middle">&#915;</text>
<text x="214.3" y="449.1" font-size="16.6" text-anchor="middle">A</text>
<text x="244.9" y="449.1" font-size="16.6" text-anchor="middle">L</text>
<text x="267.7" y="449.1" font-size="16.6" text-anchor="middle">H</text>
<text x="307.2" y="449.1" font-size="16.6" text-anchor="middle">A</text>
<text x="334.3" y="449.1" font-size="16.6" text-anchor="middle">B</text>
<text transform="translate(16.3 341.5) rotate(-90)" font-size="16" text-anchor="middle">Energy (eV)</text>
</g>
<g id="panel-d">
<text x="323.8" y="252.3" font-size="18.5">(d)</text>
<line x1="395.6" y1="236.8" x2="416.8" y2="236.8" stroke="#000" stroke-width="1.5"/>
<line x1="395.6" y1="254.2" x2="416.8" y2="254.2" stroke="#000" stroke-width="1.5" stroke-dasharray="4.10 1.6"/>
<text x="419.3" y="241.2" font-size="16.2">Total up</text>
<text x="419.3" y="258.15" font-size="16.2">Total dn</text>
<line x1="491.8" y1="236.8" x2="512.8" y2="236.8" stroke="#ff0000" stroke-width="1.5"/>
<line x1="491.8" y1="254.2" x2="512.8" y2="254.2" stroke="#ff0000" stroke-width="1.5" stroke-dasharray="4.05 1.6"/>
<text x="516.2" y="241.2" font-size="16.2">Cr-3<tspan font-style="italic">d</tspan> up</text>
<text x="516.2" y="258.15" font-size="16.2">Cr-3<tspan font-style="italic">d</tspan> dn</text>
<line x1="590.8" y1="236.8" x2="613.3" y2="236.8" stroke="#0000ff" stroke-width="1.5"/>
<line x1="590.8" y1="254.2" x2="613.3" y2="254.2" stroke="#0000ff" stroke-width="1.5" stroke-dasharray="4.42 1.6"/>
<text x="614.7" y="241.2" font-size="16.2">Sb-4<tspan font-style="italic">p</tspan> up</text>
<text x="614.7" y="258.15" font-size="16.2">Sb-4<tspan font-style="italic">p</tspan> dn</text>
<clipPath id="clipd"><rect x="395.9" y="265.0" width="277.9" height="165.9"/></clipPath>
<g clip-path="url(#clipd)" fill="none">
<line x1="533.8" y1="265.0" x2="533.8" y2="430.9" stroke="#4a4a4a" stroke-width="1.4" stroke-dasharray="6 1.7"/>
<path d="M396.1 343.2C402.4 343.4 420.2 344.0 433.8 344.6C447.4 345.2 464.5 346.1 477.6 346.6C490.7 347.2 504.5 347.6 512.6 347.9C520.7 348.1 522.4 348.1 526.0 348.1C529.6 348.1 531.5 347.9 534.0 347.7C536.5 347.4 536.9 347.0 541.0 346.6C545.1 346.2 551.2 345.3 558.5 345.2C565.8 345.1 574.9 345.7 584.7 345.9C594.6 346.1 606.7 346.3 617.6 346.3C628.5 346.3 641.0 346.0 650.4 345.7C659.8 345.4 670.0 344.8 673.9 344.6" stroke="#0000ff" stroke-width="1.75"/>
<path d="M396.1 351.8C402.4 351.6 420.2 351.1 433.8 350.7C447.4 350.3 464.5 349.9 477.6 349.6C490.7 349.3 503.9 349.1 512.6 348.9C521.3 348.7 525.3 348.5 530.0 348.6C534.7 348.7 535.5 349.2 541.0 349.6C546.5 350.0 553.7 350.7 562.8 350.7C571.9 350.7 584.8 349.8 595.7 349.6C606.7 349.4 617.5 349.5 628.5 349.6C639.5 349.7 653.8 350.1 661.4 350.3C669.0 350.5 671.8 350.6 673.9 350.7" stroke="#0000ff" stroke-width="1.9" stroke-dasharray="7 3.2"/>
<path d="M396.1 325.5C398.0 324.8 404.4 322.3 407.5 321.1C410.6 319.9 413.0 319.3 415.0 318.5C417.0 317.7 418.0 317.2 419.5 316.3C421.0 315.4 422.4 314.4 423.9 313.2C425.4 312.0 426.9 310.4 428.4 309.2C429.9 308.0 431.5 306.8 432.8 306.0C434.1 305.2 435.4 305.0 436.4 304.7C437.4 304.4 437.7 304.3 438.6 304.4C439.5 304.5 440.6 304.7 441.7 305.2C442.8 305.7 444.1 306.5 445.3 307.4C446.5 308.3 447.6 309.3 448.8 310.5C450.0 311.7 451.2 313.2 452.4 314.5C453.6 315.8 454.7 317.0 456.0 318.5C457.3 320.0 458.4 321.5 460.0 323.3C461.6 325.1 463.9 327.4 465.9 329.2C467.9 331.0 469.8 332.6 471.8 333.9C473.8 335.2 475.7 336.0 477.7 336.9C479.7 337.8 480.7 338.3 483.6 339.2C486.6 340.1 491.5 341.6 495.4 342.5C499.3 343.4 503.3 344.0 507.2 344.5C511.1 345.0 515.9 345.4 519.0 345.4C522.1 345.4 523.9 345.0 526.1 344.5C528.3 344.0 530.2 343.2 532.0 342.2C533.8 341.2 534.8 340.3 536.7 338.6C538.6 336.9 541.1 334.3 543.3 332.2C545.5 330.1 547.6 327.8 549.7 325.8C551.9 323.8 554.1 321.5 556.2 320.1C558.3 318.7 560.3 317.9 562.1 317.3C563.9 316.7 564.6 316.5 566.9 316.7C569.2 316.9 572.7 317.7 576.0 318.6C579.3 319.5 583.6 321.1 586.9 322.0C590.2 322.9 593.5 323.5 595.7 323.7C597.9 323.9 598.1 323.9 600.0 323.3C601.9 322.7 604.7 321.4 607.1 319.8C609.5 318.2 612.0 315.7 614.2 313.9C616.4 312.1 618.1 310.3 620.1 309.2C622.1 308.1 624.5 307.4 626.5 307.4C628.5 307.4 630.0 307.9 631.9 309.2C633.8 310.5 635.8 313.0 637.8 315.1C639.8 317.2 641.7 319.9 643.7 321.6C645.7 323.3 647.5 324.3 649.6 325.1C651.8 325.9 654.1 326.0 656.6 326.3C659.1 326.6 662.0 326.7 664.9 327.2C667.8 327.7 672.4 328.8 673.9 329.1" stroke="#ff0000" stroke-width="1.75"/>
<path d="M396.1 372.4C398.0 372.9 403.8 374.5 407.5 375.7C411.2 376.9 414.9 378.2 418.5 379.6C422.1 381.0 426.7 383.0 429.4 384.0C432.1 385.0 433.0 385.1 434.5 385.4C436.0 385.6 436.5 385.9 438.2 385.5C439.9 385.1 442.1 384.9 444.7 383.3C447.2 381.7 450.2 378.6 453.5 375.7C456.8 372.8 460.4 368.6 464.4 365.8C468.4 363.1 473.2 360.9 477.6 359.2C482.0 357.5 486.3 356.5 490.7 355.5C495.1 354.5 499.9 353.7 503.9 353.1C507.9 352.5 511.5 352.0 514.8 352.0C518.1 352.0 521.1 352.7 523.6 353.3C526.1 353.9 527.8 353.9 530.0 355.6C532.2 357.3 534.7 360.6 537.0 363.5C539.3 366.4 541.2 370.1 543.9 372.8C546.6 375.5 550.3 378.3 553.2 379.8C556.1 381.3 558.6 382.0 561.3 381.6C564.0 381.2 566.5 379.2 569.4 377.4C572.3 375.5 575.6 372.4 578.7 370.5C581.8 368.6 585.2 367.1 587.9 366.3C590.6 365.5 592.2 365.6 594.9 365.9C597.6 366.2 601.0 366.7 604.1 368.2C607.2 369.7 610.3 372.6 613.4 375.1C616.5 377.6 619.8 381.2 622.7 383.2C625.6 385.2 628.1 387.0 630.8 387.2C633.5 387.4 635.6 386.0 638.9 384.4C642.2 382.8 646.6 379.5 650.5 377.4C654.4 375.3 658.2 373.5 662.1 371.6C666.0 369.7 671.8 366.8 673.7 365.9" stroke="#ff0000" stroke-width="1.9" stroke-dasharray="7 3.2"/>
<path d="M396.1 307.6C398.0 307.2 404.4 305.8 407.5 305.1C410.6 304.4 413.0 304.0 415.0 303.4C417.0 302.8 418.0 302.1 419.5 301.4C421.0 300.6 422.6 299.8 423.9 298.9C425.2 298.0 426.3 296.9 427.5 295.8C428.7 294.7 429.8 293.4 431.0 292.5C432.2 291.6 433.4 291.1 434.6 290.7C435.8 290.3 437.1 290.2 438.3 290.2C439.5 290.2 440.5 290.4 441.7 290.9C442.9 291.4 444.1 292.1 445.3 293.1C446.5 294.1 447.6 295.4 448.8 296.7C450.0 298.0 451.2 299.6 452.4 301.1C453.6 302.7 454.7 304.2 456.0 306.0C457.3 307.8 458.4 309.9 460.0 312.1C461.6 314.3 463.9 317.0 465.9 319.2C467.9 321.4 469.8 323.4 471.8 325.1C473.8 326.8 475.7 327.9 477.7 329.2C479.7 330.5 481.6 331.6 483.6 332.7C485.6 333.8 487.5 334.8 489.5 335.7C491.5 336.6 493.4 337.3 495.4 338.0C497.4 338.7 499.3 339.2 501.3 339.7C503.3 340.2 505.2 340.6 507.2 341.0C509.2 341.4 511.5 341.9 513.1 342.2C514.7 342.5 515.0 342.7 516.6 342.8C518.2 342.9 520.9 343.1 522.5 343.0C524.1 342.9 524.9 342.8 526.1 342.5C527.3 342.2 528.3 341.6 529.6 341.0C530.9 340.4 532.5 339.5 533.7 338.6C534.9 337.7 535.1 337.6 536.7 335.7C538.3 333.8 541.1 330.0 543.3 326.9C545.5 323.8 547.6 319.8 549.7 316.9C551.9 313.9 554.3 311.1 556.2 309.2C558.1 307.3 559.3 306.5 561.0 305.7C562.7 304.9 564.3 304.5 566.3 304.5C568.3 304.5 570.5 305.0 572.8 305.7C575.1 306.4 577.6 307.7 580.0 308.6C582.4 309.5 584.3 310.5 586.9 311.3C589.5 312.1 593.5 313.2 595.7 313.5C597.9 313.8 598.1 313.9 600.0 313.3C601.9 312.7 604.7 311.6 607.1 309.8C609.5 308.0 612.0 304.8 614.2 302.7C616.4 300.6 618.1 298.6 620.1 297.4C622.1 296.2 624.2 295.3 626.2 295.4C628.2 295.5 630.0 296.4 631.9 298.0C633.8 299.6 635.8 302.8 637.8 305.1C639.8 307.5 641.7 310.3 643.7 312.1C645.7 313.9 647.6 315.1 649.6 315.9C651.6 316.6 653.1 316.4 655.5 316.6C657.9 316.8 660.6 316.6 663.7 316.9C666.8 317.2 672.2 318.2 673.9 318.5" stroke="#000" stroke-width="1.75"/>
<path d="M396.1 388.8C398.0 389.5 403.8 392.1 407.5 393.2C411.2 394.3 414.9 394.5 418.5 395.4C422.1 396.3 426.3 397.9 429.4 398.6C432.5 399.3 434.6 400.1 437.1 399.7C439.7 399.3 442.0 398.5 444.7 396.5C447.4 394.5 450.2 391.5 453.5 387.7C456.8 383.9 460.4 377.1 464.4 373.5C468.4 369.9 473.2 368.0 477.6 365.8C482.0 363.6 486.3 361.8 490.7 360.3C495.1 358.8 499.9 357.8 503.9 357.0C507.9 356.2 511.5 355.6 514.8 355.6C518.1 355.6 521.1 356.3 523.6 357.0C526.1 357.7 527.8 357.7 530.0 359.6C532.2 361.5 534.7 364.8 537.0 368.2C539.3 371.6 541.2 375.9 543.9 379.8C546.6 383.7 550.3 388.6 553.2 391.3C556.1 394.0 558.6 396.0 561.3 396.0C564.0 396.0 566.5 393.8 569.4 391.3C572.3 388.8 575.6 383.7 578.7 380.9C581.8 378.1 585.2 375.9 587.9 374.7C590.6 373.5 592.2 373.2 594.9 373.5C597.6 373.8 601.0 374.5 604.1 376.3C607.2 378.1 610.3 381.3 613.4 384.4C616.5 387.5 619.8 392.2 622.7 394.8C625.6 397.4 628.1 399.7 630.8 400.1C633.5 400.5 635.6 399.0 638.9 397.1C642.2 395.2 646.6 391.3 650.5 389.0C654.4 386.7 658.2 385.5 662.1 383.2C666.0 380.9 671.8 376.5 673.7 375.1" stroke="#000" stroke-width="1.9" stroke-dasharray="7 3.2"/>
</g>
<rect x="395.9" y="265.0" width="277.9" height="165.9" fill="none" stroke="#000" stroke-width="1.6"/>
<line x1="395.9" y1="281.6" x2="401.9" y2="281.6" stroke="#000" stroke-width="1.3"/>
<text x="388.5" y="287.0" font-size="16.4" text-anchor="end">4</text>
<line x1="395.9" y1="314.8" x2="401.9" y2="314.8" stroke="#000" stroke-width="1.3"/>
<text x="388.5" y="320.2" font-size="16.4" text-anchor="end">2</text>
<line x1="395.9" y1="347.9" x2="401.9" y2="347.9" stroke="#000" stroke-width="1.3"/>
<text x="388.5" y="353.3" font-size="16.4" text-anchor="end">0</text>
<line x1="395.9" y1="381.1" x2="401.9" y2="381.1" stroke="#000" stroke-width="1.3"/>
<text x="388.5" y="386.5" font-size="16.4" text-anchor="end">-2</text>
<line x1="395.9" y1="414.3" x2="401.9" y2="414.3" stroke="#000" stroke-width="1.3"/>
<text x="388.5" y="419.7" font-size="16.4" text-anchor="end">-4</text>
<text x="391.4" y="447.6" font-size="17.4" text-anchor="middle" textLength="25.8" lengthAdjust="spacingAndGlyphs">-2.0</text>
<line x1="430.6" y1="430.9" x2="430.6" y2="424.9" stroke="#000" stroke-width="1.3"/>
<text x="427.6" y="447.6" font-size="17.4" text-anchor="middle" textLength="25.8" lengthAdjust="spacingAndGlyphs">-1.5</text>
<line x1="465.4" y1="430.9" x2="465.4" y2="424.9" stroke="#000" stroke-width="1.3"/>
<text x="463.1" y="447.6" font-size="17.4" text-anchor="middle" textLength="25.8" lengthAdjust="spacingAndGlyphs">-1.0</text>
<line x1="500.1" y1="430.9" x2="500.1" y2="424.9" stroke="#000" stroke-width="1.3"/>
<text x="498.4" y="447.6" font-size="17.4" text-anchor="middle" textLength="25.8" lengthAdjust="spacingAndGlyphs">-0.5</text>
<line x1="534.8" y1="430.9" x2="534.8" y2="424.9" stroke="#000" stroke-width="1.3"/>
<text x="534.2" y="447.6" font-size="17.4" text-anchor="middle" textLength="19.4" lengthAdjust="spacingAndGlyphs">0.0</text>
<line x1="569.6" y1="430.9" x2="569.6" y2="424.9" stroke="#000" stroke-width="1.3"/>
<text x="571.1" y="447.6" font-size="17.4" text-anchor="middle" textLength="19.4" lengthAdjust="spacingAndGlyphs">0.5</text>
<line x1="604.3" y1="430.9" x2="604.3" y2="424.9" stroke="#000" stroke-width="1.3"/>
<text x="608.5" y="447.6" font-size="17.4" text-anchor="middle" textLength="19.4" lengthAdjust="spacingAndGlyphs">1.0</text>
<line x1="639.1" y1="430.9" x2="639.1" y2="424.9" stroke="#000" stroke-width="1.3"/>
<text x="642.6" y="447.6" font-size="17.4" text-anchor="middle" textLength="19.4" lengthAdjust="spacingAndGlyphs">1.5</text>
<text x="677.2" y="447.6" font-size="17.4" text-anchor="middle" textLength="19.4" lengthAdjust="spacingAndGlyphs">2.0</text>
<text transform="translate(367.5 344.8) rotate(-90)" font-size="16.5" text-anchor="middle">DOS (states eV<tspan font-size="12" dy="-6.5">&#8722;1</tspan><tspan dy="6.5"> unit cell</tspan><tspan font-size="12" dy="-6.5">&#8722;1</tspan><tspan dy="6.5">)</tspan></text>
</g>
</g>
</svg>
</body></html>
